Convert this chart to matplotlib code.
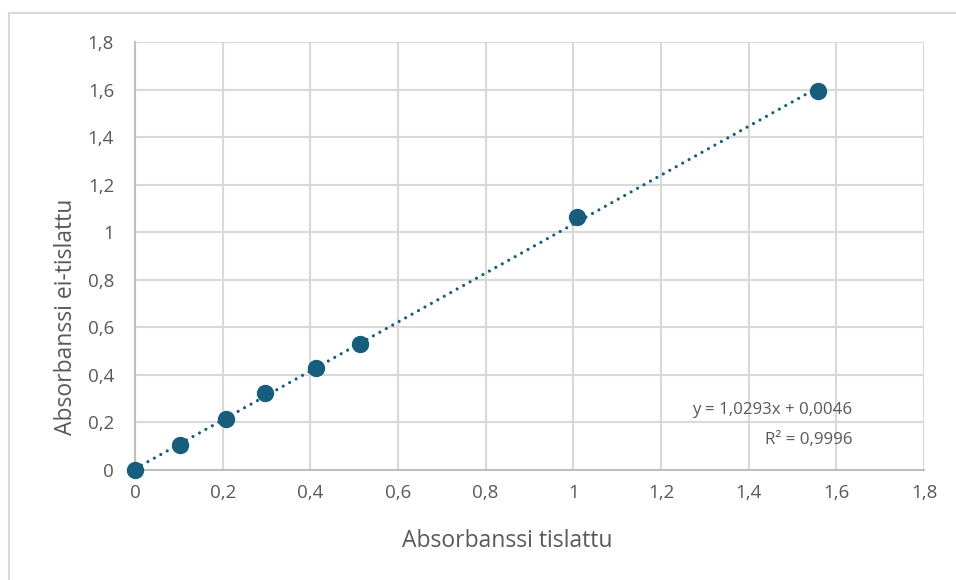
import numpy as np
import matplotlib

matplotlib.use("Agg")
import matplotlib.pyplot as plt
from matplotlib.lines import Line2D

plt.rcParams["font.family"] = ["Open Sans", "DejaVu Sans"]

# values
x_tislattu = [0.0, 0.103, 0.208, 0.297, 0.413, 0.513, 1.008, 1.558]
y_ei_tislattu = [0.0, 0.105, 0.213, 0.322, 0.427, 0.532, 1.064, 1.595]
slope = 1.0293
intercept = 0.0046
eq_text = "y = 1,0293x + 0,0046\nR² = 0,9996"

x_ticks = [0, 0.2, 0.4, 0.6, 0.8, 1.0, 1.2, 1.4, 1.6, 1.8]
x_ticklabels = ["0", "0,2", "0,4", "0,6", "0,8", "1", "1,2", "1,4", "1,6", "1,8"]
y_ticks = [0, 0.2, 0.4, 0.6, 0.8, 1.0, 1.2, 1.4, 1.6, 1.8]
y_ticklabels = ["0", "0,2", "0,4", "0,6", "0,8", "1", "1,2", "1,4", "1,6", "1,8"]

POINT = "#175d7e"
GRID = "#d9d9d9"
AXIS = "#bfbfbf"
INK = "#595959"

fig = plt.figure(figsize=(9.56, 5.8), dpi=100)
ax = fig.add_axes([135 / 956, 110 / 580, 789 / 956, 428 / 580])

# chart border (only left and top edges fall inside the image)
fig.add_artist(Line2D([8.5 / 956, 8.5 / 956], [0, 1 - 13 / 580], transform=fig.transFigure,
                      color=GRID, linewidth=1.5))
fig.add_artist(Line2D([8.5 / 956, 1], [1 - 13 / 580, 1 - 13 / 580], transform=fig.transFigure,
                      color=GRID, linewidth=1.5))

# linear trendline
tx = np.array([0.0, max(x_tislattu)])
ax.plot(tx, slope * tx + intercept, color=POINT, linewidth=2.3,
        linestyle=(0, (0.01, 2.3)), dash_capstyle="round", zorder=3)

ax.plot(x_tislattu, y_ei_tislattu, linestyle="none", marker="o", markersize=11.5,
        color=POINT, markeredgecolor=POINT, zorder=4, clip_on=False)

ax.text(1.637, 0.19, eq_text, ha="right", va="center", fontsize=12.2, color=INK,
        linespacing=2.2)

ax.set_xlim(0, 1.8)
ax.set_ylim(0, 1.8)
ax.set_xticks(x_ticks)
ax.set_xticklabels(x_ticklabels)
ax.set_yticks(y_ticks)
ax.set_yticklabels(y_ticklabels)
ax.tick_params(length=0, labelsize=13.5, labelcolor=INK)
ax.tick_params(axis="y", pad=15)
ax.tick_params(axis="x", pad=10)

# axis titles sit where the reference puts them (not centred on the plot area)
fig.text(507 / 956, 1 - 541 / 580, "Absorbanssi tislattu", ha="center", va="center",
         fontsize=16.5, color=INK)
fig.text(66 / 956, 1 - 317 / 580, "Absorbanssi ei-tislattu", ha="center", va="center",
         rotation=90, fontsize=16.5, color=INK)

ax.grid(True, color=GRID, linewidth=1.5, zorder=0)
ax.set_axisbelow(True)
for side in ("top", "right"):
    ax.spines[side].set_visible(False)
for side in ("left", "bottom"):
    ax.spines[side].set_color(AXIS)
    ax.spines[side].set_linewidth(1.5)

fig.savefig("out.png", dpi=100, facecolor="white")
